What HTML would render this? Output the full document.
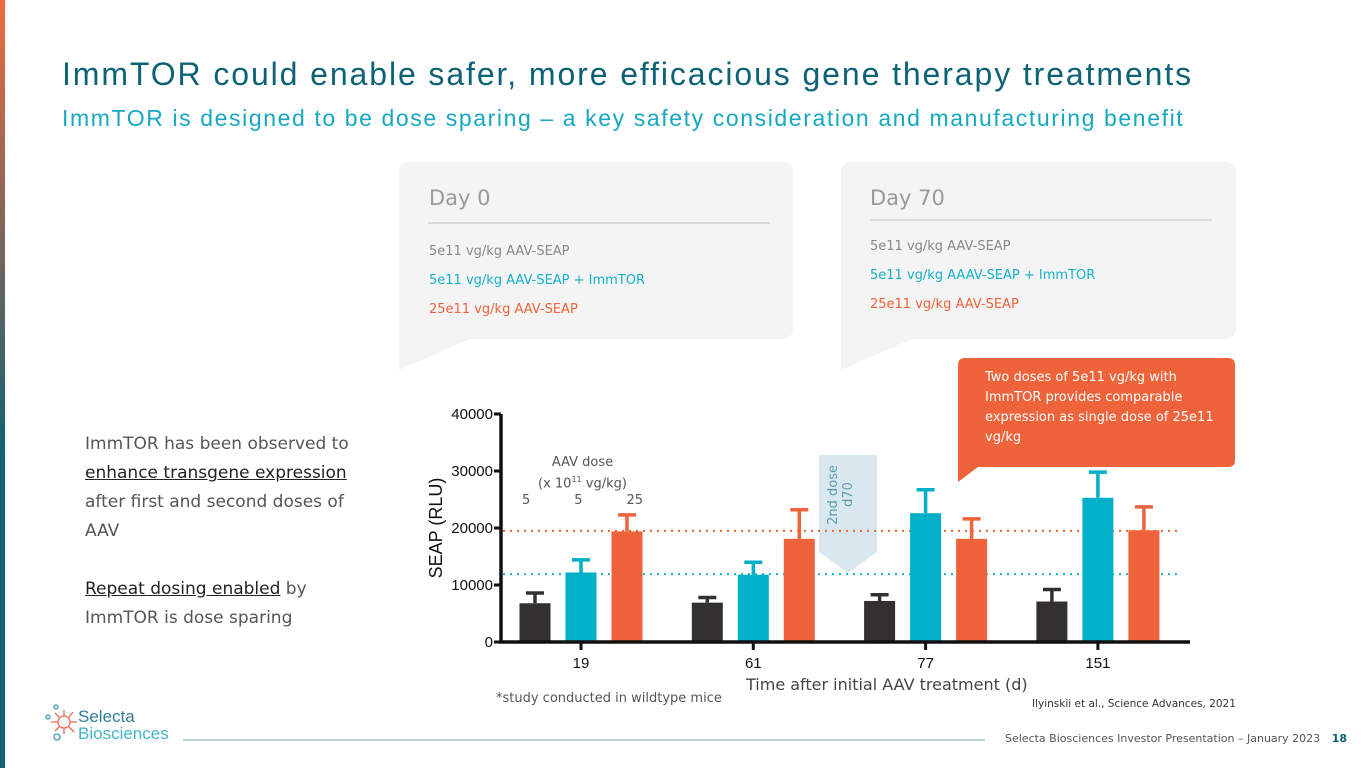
<!DOCTYPE html>
<html><head><meta charset="utf-8"><style>
body{margin:0;width:1365px;height:768px;background:#fff;font-family:"Liberation Sans",sans-serif;position:relative;overflow:hidden}
.a{position:absolute}
.os{font-family:"DejaVu Sans","Liberation Sans",sans-serif}
</style></head><body>
<div class="a" style="left:0;top:0;width:5px;height:768px;background:linear-gradient(#ef6a3f,#0d6275 60%,#0d6275)"></div>
<div class="a" style="left:62px;top:56px;font-size:32px;color:#0d6275;letter-spacing:1.9px;white-space:nowrap">ImmTOR could enable safer, more efficacious gene therapy treatments</div>
<div class="a" style="left:62px;top:105px;font-size:23px;color:#16a8c0;letter-spacing:1.6px;white-space:nowrap">ImmTOR is designed to be dose sparing – a key safety consideration and manufacturing benefit</div>

<svg class="a" style="left:0;top:0" width="1365" height="768">
<path d="M410 162 H782 Q793 162 793 173 V328 Q793 339 782 339 H470 L399 370 V173 Q399 162 410 162Z" fill="#f4f4f4"/>
<path d="M852 162 H1225 Q1236 162 1236 173 V328 Q1236 339 1225 339 H912 L841 370 V173 Q841 162 852 162Z" fill="#f4f4f4"/>
<line x1="428" y1="223" x2="770" y2="223" stroke="#bbb"/>
<line x1="870" y1="220" x2="1212" y2="220" stroke="#bbb"/>
<path d="M978 358 H1228 Q1235 358 1235 365 V460 Q1235 467 1228 467 H978 L958 482 V365 Q958 358 965 358Z" fill="#ef633a"/>
<path d="M819 455 H877 V552 L848 573 L819 552Z" fill="#d9e7ee"/>
<line x1="183" y1="740" x2="985" y2="740" stroke="#7aa7b3"/>
</svg>
<div class="a os" style="left:429px;top:186px;font-size:21px;color:#999">Day 0</div>
<div class="a os" style="left:429px;top:237px;font-size:13px;line-height:29px">
<div style="color:#888">5e11 vg/kg AAV-SEAP</div><div style="color:#16b0c8">5e11 vg/kg AAV-SEAP + ImmTOR</div><div style="color:#ef633a">25e11 vg/kg AAV-SEAP</div></div>
<div class="a os" style="left:870px;top:186px;font-size:21px;color:#999">Day 70</div>
<div class="a os" style="left:870px;top:232px;font-size:13px;line-height:29px">
<div style="color:#888">5e11 vg/kg AAV-SEAP</div><div style="color:#16b0c8">5e11 vg/kg AAAV-SEAP + ImmTOR</div><div style="color:#ef633a">25e11 vg/kg AAV-SEAP</div></div>
<div class="a os" style="left:985px;top:368px;width:245px;font-size:13px;line-height:20px;color:#fff">Two doses of 5e11 vg/kg with ImmTOR provides comparable expression as single dose of 25e11 vg/kg</div>
<div class="a os" style="left:85px;top:430px;width:280px;font-size:17px;line-height:29px;color:#555">ImmTOR has been observed to <b style="color:#222;font-weight:normal;text-decoration:underline">enhance transgene expression</b> after first and second doses of AAV<br><br><span style="color:#222;text-decoration:underline">Repeat dosing enabled</span> by ImmTOR is dose sparing</div>

<svg id="chart" class="a" style="left:0;top:0" width="1365" height="768"></svg>
<div class="a os" style="left:826px;top:465px;width:44px;font-size:13px;color:#5a9db3;writing-mode:vertical-rl;transform:rotate(180deg);text-align:center;line-height:15px">2nd dose<br>d70</div>
<div class="a os" style="left:515px;top:454px;width:135px;text-align:center;font-size:13px;color:#555;line-height:17px">AAV dose<br>(x 10<sup style="font-size:8px">11</sup> vg/kg)<br><span style="display:flex;justify-content:space-between;padding:0 7px"><span>5</span><span>5</span><span>25</span></span></div>
<div class="a os" style="left:746px;top:675px;font-size:16px;color:#444">Time after initial AAV treatment (d)</div>
<div class="a os" style="left:496px;top:691px;font-size:13px;color:#555">*study conducted in wildtype mice</div>
<div class="a os" style="left:1032px;top:698px;font-size:10.5px;color:#333">Ilyinskii et al., Science Advances, 2021</div>
<div class="a os" style="left:1005px;top:732px;font-size:11px;color:#555">Selecta Biosciences Investor Presentation – January 2023 <b style="color:#0d6275;margin-left:8px">18</b></div>
<div class="a" style="left:40px;top:702px;width:140px;height:46px">
<svg width="42" height="46" style="position:absolute;left:0;top:0"><g stroke="#ef6a50" stroke-width="1.3" fill="none"><circle cx="24" cy="20" r="6"/><path d="M24 8V14M24 26V32M11 20H18M30 20H37M15 11L19 15M29 25L34 30M33 10L29 15M15 29L19 25"/></g><g stroke="#3a9fb5" fill="none" stroke-width="1.3"><circle cx="16" cy="5" r="2"/><circle cx="8" cy="15" r="2"/><circle cx="17" cy="35" r="3"/></g></svg>
<div class="a" style="left:38px;top:6px;font-size:17px;line-height:17px;color:#2e7f93">Selecta<br><span style="color:#43b5c8">Biosciences</span></div></div>

<script>
const categories=["19","61","77","151"];
const seriesBlack=[6800,6900,7200,7100];
const errBlack=[8600,7800,8300,9200];
const seriesTeal=[12200,11800,22600,25300];
const errTeal=[14400,14000,26700,29800];
const seriesOrange=[19400,18100,18100,19600];
const errOrange=[22300,23200,21600,23700];
const yTicks=[0,10000,20000,30000,40000];
const refOrange=19500, refTeal=11900;
const NS="http://www.w3.org/2000/svg";
const svg=document.getElementById('chart');
const y=v=>642-v*228/40000;
const xc=i=>581+i*172.3;
function mk(t,a,p){const e=document.createElementNS(NS,t);for(const k in a)e.setAttribute(k,a[k]);(p||svg).appendChild(e);return e;}
let l=mk('line',{x1:503,x2:1178,y1:y(refOrange),y2:y(refOrange),stroke:'#ef633a','stroke-width':2,'stroke-dasharray':'2 5'});


l=mk('line',{x1:503,x2:1178,y1:y(refTeal),y2:y(refTeal),stroke:'#16b0c8','stroke-width':2,'stroke-dasharray':'2 5'});


const series=[[seriesBlack,errBlack,'#333030','black'],[seriesTeal,errTeal,'#00b0c8','teal'],[seriesOrange,errOrange,'#ef633a','orange']];
categories.forEach((c,i)=>{
  series.forEach((s,j)=>{
    const cx=xc(i)+(j-1)*46, v=s[0][i], e=s[1][i];
    const eb=mk('path',{d:`M${cx} ${y(v)}V${y(e)}M${cx-9} ${y(e)}H${cx+9}`,stroke:s[2],'stroke-width':3.5,fill:'none'});
    
    
    const r=mk('rect',{x:cx-15.5,y:y(v),width:31,height:y(0)-y(v),fill:s[2]});
    
    
  });
  mk('line',{x1:xc(i),x2:xc(i),y1:642,y2:650,stroke:'#111','stroke-width':3});
  const t=mk('text',{x:xc(i),y:668,'text-anchor':'middle','font-size':15,fill:'#111'});t.textContent=c;
  
  
});
mk('path',{d:'M501 414V642H1190',stroke:'#111','stroke-width':3.5,fill:'none'});
yTicks.forEach(v=>{
  mk('line',{x1:494,x2:501,y1:y(v),y2:y(v),stroke:'#111','stroke-width':3});
  const t=mk('text',{x:493,y:y(v)+5,'text-anchor':'end','font-size':15,fill:'#111'});t.textContent=v;
  
  
});
const yt=mk('text',{x:0,y:0,transform:'translate(442,528) rotate(-90)','text-anchor':'middle','font-size':18,fill:'#111'});
yt.textContent='SEAP (RLU)';


</script>
</body></html>
